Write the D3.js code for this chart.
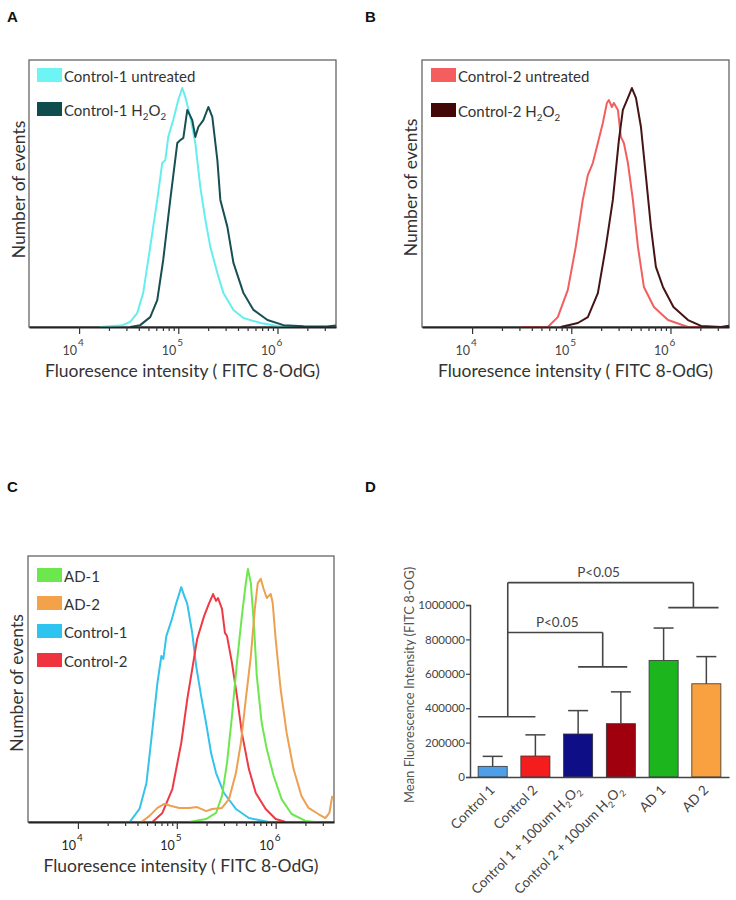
<!DOCTYPE html>
<html><head><meta charset="utf-8">
<script src="https://cdn.jsdelivr.net/npm/d3@7"></script>
<style>body{margin:0;background:#fff;} svg{display:block;}</style>
</head><body>
<svg id="chart" width="736" height="900"></svg>
<script>
// ---------------- DATA ----------------
// Histograms: [log10(intensity), relative number of events (0-100)]
const ctrl1Untreated = [[4.21,0],[4.44,0.7],[4.515,1.9],[4.586,5.2],[4.646,12.7],[4.717,30.0],[4.788,47.6],[4.838,61.4],[4.869,62.5],[4.899,71.2],[4.949,77.5],[5.0,85.0],[5.04,89.5],[5.071,86.1],[5.121,78.7],[5.172,68.9],[5.222,52.4],[5.273,40.1],[5.323,30.0],[5.394,20.2],[5.455,12.7],[5.556,6.4],[5.657,3.4],[5.828,1.5],[6.0,0.4],[6.23,0]];
const ctrl1H2O2 = [[4.515,0],[4.616,0.7],[4.717,3.7],[4.788,10.1],[4.848,25.1],[4.919,47.6],[4.99,68.9],[5.02,70.0],[5.051,70.8],[5.091,81.3],[5.141,77.5],[5.172,71.2],[5.202,74.9],[5.253,77.5],[5.303,82.4],[5.343,78.7],[5.394,62.5],[5.424,47.6],[5.495,37.5],[5.556,24.0],[5.657,12.7],[5.758,6.4],[5.899,2.6],[6.061,0.7],[6.263,0.3],[6.5,0.2],[6.59,0.6]];
const ctrl2Untreated = [[4.5,0],[4.763,0],[4.864,3.7],[4.965,13.9],[5.045,30.0],[5.116,47.6],[5.167,56.9],[5.217,61.4],[5.268,68.9],[5.318,76.4],[5.359,83.9],[5.379,85.0],[5.409,82.4],[5.429,83.9],[5.47,81.3],[5.5,71.2],[5.53,68.9],[5.571,61.4],[5.621,47.6],[5.672,30.0],[5.732,15.0],[5.833,7.5],[5.975,2.6],[6.177,0],[6.59,0]];
const ctrl2H2O2 = [[4.894,0],[5.066,1.5],[5.167,3.7],[5.268,12.7],[5.348,30.0],[5.419,47.6],[5.48,70.0],[5.52,81.3],[5.571,85.8],[5.611,89.5],[5.652,85.8],[5.702,75.0],[5.753,56.2],[5.803,37.5],[5.853,22.5],[5.924,15.0],[6.03,7.5],[6.177,2.6],[6.308,0.4],[6.51,0],[6.59,0.5]];
const cControl1 = [[4.523,0],[4.623,4.9],[4.693,14.7],[4.754,35.0],[4.804,52.3],[4.844,62.4],[4.864,61.3],[4.894,69.9],[4.945,75.6],[4.995,82.3],[5.045,88.3],[5.075,85.0],[5.106,82.0],[5.156,71.1],[5.196,58.6],[5.246,47.4],[5.296,37.2],[5.347,25.9],[5.397,18.4],[5.477,10.9],[5.598,4.9],[5.729,1.5],[5.93,0]];
const cControl2 = [[4.754,0],[4.854,3.4],[4.955,12.4],[5.045,29.7],[5.106,46.2],[5.156,57.5],[5.206,68.8],[5.276,77.4],[5.327,82.3],[5.367,85.7],[5.397,83.1],[5.417,84.2],[5.457,80.1],[5.487,71.1],[5.508,69.9],[5.558,59.8],[5.608,47.4],[5.658,33.5],[5.729,19.9],[5.799,10.9],[5.899,4.9],[6.0,1.1],[6.101,0]];
const cAD1 = [[5.126,0],[5.296,1.1],[5.397,3.4],[5.457,9.8],[5.508,22.2],[5.558,39.8],[5.608,59.8],[5.658,77.4],[5.698,89.8],[5.719,95.1],[5.749,89.8],[5.779,74.8],[5.809,54.9],[5.859,37.2],[5.91,27.4],[5.98,17.3],[6.06,8.6],[6.161,3.0],[6.302,0.4],[6.4,0]];
const cAD2 = [[4.643,0],[4.724,2.3],[4.804,5.3],[4.874,6.8],[4.945,6.0],[5.025,5.3],[5.126,5.3],[5.206,5.6],[5.296,4.1],[5.357,4.9],[5.457,5.3],[5.528,8.6],[5.598,18.4],[5.648,29.7],[5.698,46.2],[5.749,62.4],[5.789,80.1],[5.819,89.8],[5.849,91.4],[5.879,87.6],[5.91,84.2],[5.95,85.7],[5.97,82.3],[6.0,68.8],[6.05,50.0],[6.111,33.5],[6.181,19.9],[6.261,9.8],[6.332,5.3],[6.432,3.0],[6.503,1.5],[6.543,3.4],[6.573,9.8]];

const histXDomainLog = [3.495, 6.59];
const histMajorTicks = [1e4, 1e5, 1e6];

// Bar chart (panel D)
const barCategories = ["Control 1", "Control 2", "Control 1 + 100um H2O2", "Control 2 + 100um H2O2", "AD 1", "AD 2"];
const barMeans = [62000, 122000, 250000, 310000, 678000, 542000];
const barSD = [58000, 123000, 136000, 185000, 188000, 158000];
const barColors = ["#4f9fe8", "#f41c1c", "#0e0e86", "#a0000e", "#1db51d", "#f9a040"];
const barYTicks = [0, 200000, 400000, 600000, 800000, 1000000];
const sigLabels = ["P<0.05", "P<0.05"];
const sigLevels = [350000, 640000, 840000, 985000, 1130000]; // bracket heights

// ---------------- DRAW ----------------
const svg = d3.select("#chart");
const FONT = "Lato, 'Open Sans', sans-serif";

function subText(sel, parts, size) {
  let shift = 0;
  parts.forEach(p => {
    const ts = sel.append("tspan").text(p[0]);
    if (p[1]) {
      ts.attr("font-size", size * 0.65).attr("dy", size * 0.28 - shift);
      shift = size * 0.28;
    } else {
      if (shift) ts.attr("dy", -shift);
      shift = 0;
    }
  });
}

function drawHist(cfg) {
  const {x0, x1, y0, y1} = cfg.box;
  const x = d3.scaleLog().domain(histXDomainLog.map(e => Math.pow(10, e))).range([x0, x1]);
  const y = d3.scaleLinear().domain([0, 100]).range([y1, y0]);
  const g = svg.append("g");
  g.append("rect").attr("x", x0).attr("y", y0).attr("width", x1 - x0).attr("height", y1 - y0)
    .attr("fill", "none").attr("stroke", "#666").attr("stroke-width", 1.3);
  const clipId = "clip" + cfg.id;
  svg.append("clipPath").attr("id", clipId).append("rect")
    .attr("x", x0).attr("y", y0 - 2).attr("width", x1 - x0).attr("height", y1 - y0 + 2);
  const line = d3.line().x(d => x(Math.pow(10, d[0]))).y(d => y(d[1]));
  cfg.series.forEach(s => {
    g.append("path").datum(s.data).attr("d", line).attr("fill", "none")
      .attr("stroke", s.color).attr("stroke-width", 2).attr("stroke-linejoin", "round")
      .attr("clip-path", `url(#${clipId})`);
  });
  const tv = x.ticks().filter(v => v >= 1e4);
  const ax = g.append("g").attr("transform", `translate(0,${y1})`)
    .call(d3.axisBottom(x).tickValues(tv).tickFormat("").tickSizeOuter(0));
  ax.selectAll(".tick text").remove();
  ax.select(".domain").attr("stroke", "#222").attr("stroke-width", 1.8);
  ax.selectAll(".tick line").attr("stroke", "#333").attr("stroke-width", 1.2)
    .attr("y2", d => histMajorTicks.includes(d) ? 7 : 4);
  histMajorTicks.forEach(v => {
    const e = Math.round(Math.log10(v));
    g.append("text").attr("x", x(v) - 2).attr("y", y1 + 28).attr("text-anchor", "end")
      .attr("font-family", FONT).attr("font-size", 12.5).attr("fill", cfg.tickColor).text("10");
    g.append("text").attr("x", x(v) - 1).attr("y", y1 + 19)
      .attr("font-family", FONT).attr("font-size", 10).attr("fill", cfg.tickColor).text(e);
  });
  g.append("text").attr("x", (x0 + x1) / 2).attr("y", cfg.xTitleY).attr("text-anchor", "middle")
    .attr("font-family", FONT).attr("font-size", 17.5).attr("fill", "#333")
    .text("Fluoresence intensity ( FITC 8-OdG)");
  g.append("text").attr("transform", `translate(${cfg.yTitleX},${(y0 + y1) / 2 + cfg.yTitleDy}) rotate(-90)`)
    .attr("text-anchor", "middle").attr("font-family", FONT).attr("font-size", 17.5).attr("fill", "#333")
    .text("Number of events");
  cfg.legend.forEach((L, i) => {
    const by = cfg.legendY[i];
    g.append("rect").attr("x", x0 + cfg.swX).attr("y", by - 14).attr("width", 25).attr("height", 14)
      .attr("fill", L.color);
    const t = g.append("text").attr("x", x0 + cfg.swX + 27).attr("y", by)
      .attr("font-family", FONT).attr("font-size", 15).attr("fill", "#333");
    subText(t, L.parts, 15);
  });
  svg.append("text").attr("x", cfg.label[1]).attr("y", cfg.label[2]).attr("font-family", "Arial, 'Liberation Sans', sans-serif")
    .attr("font-weight", "bold").attr("font-size", 15).attr("fill", "#111").text(cfg.label[0]);
}

drawHist({
  id: "A", box: {x0: 29, x1: 336, y0: 60, y1: 327},
  series: [{data: ctrl1Untreated, color: "#66eeee"}, {data: ctrl1H2O2, color: "#174f52"}],
  legend: [{color: "#6ef4f4", parts: [["Control-1 untreated", false]]},
           {color: "#0f4c4e", parts: [["Control-1 H", false], ["2", true], ["O", false], ["2", true]]}],
  legendY: [82, 116], swX: 8, tickColor: "#444",
  xTitleY: 377, yTitleX: 25, yTitleDy: -4, label: ["A", 7, 22]
});
drawHist({
  id: "B", box: {x0: 422, x1: 729, y0: 60, y1: 327},
  series: [{data: ctrl2Untreated, color: "#f25f5f"}, {data: ctrl2H2O2, color: "#461414"}],
  legend: [{color: "#f45e5e", parts: [["Control-2 untreated", false]]},
           {color: "#420808", parts: [["Control-2 H", false], ["2", true], ["O", false], ["2", true]]}],
  legendY: [82, 117], swX: 9, tickColor: "#444",
  xTitleY: 377, yTitleX: 417, yTitleDy: -6, label: ["B", 365, 22]
});
drawHist({
  id: "C", box: {x0: 28, x1: 334, y0: 556, y1: 822},
  series: [{data: cControl1, color: "#35c3ec"}, {data: cControl2, color: "#ee3a45"},
           {data: cAD1, color: "#6ce84e"}, {data: cAD2, color: "#eda050"}],
  legend: [{color: "#6ce84e", parts: [["AD-1", false]]}, {color: "#f4a24a", parts: [["AD-2", false]]},
           {color: "#2fc4f0", parts: [["Control-1", false]]}, {color: "#f0343f", parts: [["Control-2", false]]}],
  legendY: [582, 610, 638, 667], swX: 9, tickColor: "#222",
  xTitleY: 872, yTitleX: 23, yTitleDy: -6, label: ["C", 7, 492]
});

// ---------------- Panel D ----------------
(function () {
  const yD = d3.scaleLinear().domain([0, 1000000]).range([777, 605]);
  const xD = d3.scaleBand().domain(barCategories).range([470, 729]).paddingInner(0.32).paddingOuter(0.19);
  const bw = xD.bandwidth();
  const g = svg.append("g");
  const cx = c => xD(c) + bw / 2;

  g.selectAll("rect.bar").data(barCategories).join("rect").attr("class", "bar")
    .attr("x", d => xD(d)).attr("width", bw)
    .attr("y", (d, i) => yD(barMeans[i])).attr("height", (d, i) => yD(0) - yD(barMeans[i]))
    .attr("fill", (d, i) => barColors[i]).attr("stroke", "#333").attr("stroke-width", 0.8);
  barCategories.forEach((c, i) => {
    const top = yD(barMeans[i] + barSD[i]);
    g.append("line").attr("x1", cx(c)).attr("x2", cx(c)).attr("y1", yD(barMeans[i])).attr("y2", top)
      .attr("stroke", "#444").attr("stroke-width", 1.5);
    g.append("line").attr("x1", cx(c) - 10).attr("x2", cx(c) + 10).attr("y1", top).attr("y2", top)
      .attr("stroke", "#444").attr("stroke-width", 1.5);
  });

  const ya = g.append("g").attr("transform", "translate(470,0)")
    .call(d3.axisLeft(yD).tickValues(barYTicks).tickFormat(d3.format("d")).tickSize(4).tickPadding(1));
  ya.select(".domain").attr("stroke", "#444").attr("stroke-width", 1.5);
  ya.selectAll(".tick line").attr("stroke", "#444").attr("stroke-width", 1.2);
  ya.selectAll(".tick text").attr("font-family", FONT).attr("font-size", 11.5).attr("fill", "#444");
  const xa = g.append("g").attr("transform", "translate(0,777)")
    .call(d3.axisBottom(xD).tickSize(0).tickFormat(""));
  xa.selectAll(".tick text").remove();
  xa.select(".domain").attr("stroke", "#444").attr("stroke-width", 1.5);

  const labelParts = [
    [["Control 1", false]], [["Control 2", false]],
    [["Control 1 + 100um H", false], ["2", true], ["O", false], ["2", true]],
    [["Control 2 + 100um H", false], ["2", true], ["O", false], ["2", true]],
    [["AD 1", false]], [["AD 2", false]]
  ];
  barCategories.forEach((c, i) => {
    const t = g.append("text").attr("transform", `translate(${cx(c) + 3},791) rotate(-45)`)
      .attr("text-anchor", "end").attr("font-family", FONT).attr("font-size", 13.5).attr("fill", "#444");
    subText(t, labelParts[i], 13.5);
  });

  g.append("text").attr("transform", `translate(414,685) rotate(-90)`).attr("text-anchor", "middle")
    .attr("font-family", FONT).attr("font-size", 13).attr("fill", "#555")
    .text("Mean Fluorescence Intensity (FITC 8-OG)");

  const br = g.append("g").attr("stroke", "#444").attr("stroke-width", 1.6).attr("fill", "none");
  const leftA = xD("Control 1"), leftB = cx("Control 2");
  const leftMid = (leftA + leftB) / 2 + 1;
  const r1A = cx(barCategories[2]), r1B = xD(barCategories[3]) + bw * 0.72;
  const r1Mid = (r1A + r1B) / 2;
  const r2A = xD("AD 1") + bw * 0.66, r2B = xD("AD 2") + bw * 0.92;
  const r2Mid = (r2A + r2B) / 2;
  const seg = (xa1, ya1, xa2, ya2) => br.append("line").attr("x1", xa1).attr("y1", ya1).attr("x2", xa2).attr("y2", ya2);
  seg(leftA, yD(sigLevels[0]), leftB, yD(sigLevels[0]));
  seg(leftMid, yD(sigLevels[0]), leftMid, yD(sigLevels[4]));
  seg(leftMid, yD(sigLevels[2]), r1Mid, yD(sigLevels[2]));
  seg(r1Mid, yD(sigLevels[2]), r1Mid, yD(sigLevels[1]));
  seg(r1A, yD(sigLevels[1]), r1B, yD(sigLevels[1]));
  seg(leftMid, yD(sigLevels[4]), r2Mid, yD(sigLevels[4]));
  seg(r2Mid, yD(sigLevels[4]), r2Mid, yD(sigLevels[3]));
  seg(r2A, yD(sigLevels[3]), r2B, yD(sigLevels[3]));
  g.append("text").attr("x", (leftMid + r1Mid) / 2 + 2).attr("y", yD(sigLevels[2]) - 6).attr("text-anchor", "middle")
    .attr("font-family", FONT).attr("font-size", 13.5).attr("fill", "#444").text(sigLabels[0]);
  g.append("text").attr("x", (leftMid + r2Mid) / 2 - 2).attr("y", yD(sigLevels[4]) - 6).attr("text-anchor", "middle")
    .attr("font-family", FONT).attr("font-size", 13.5).attr("fill", "#444").text(sigLabels[1]);

  svg.append("text").attr("x", 365).attr("y", 492).attr("font-family", "Arial, 'Liberation Sans', sans-serif")
    .attr("font-weight", "bold").attr("font-size", 15).attr("fill", "#111").text("D");
})();
</script>
</body></html>
